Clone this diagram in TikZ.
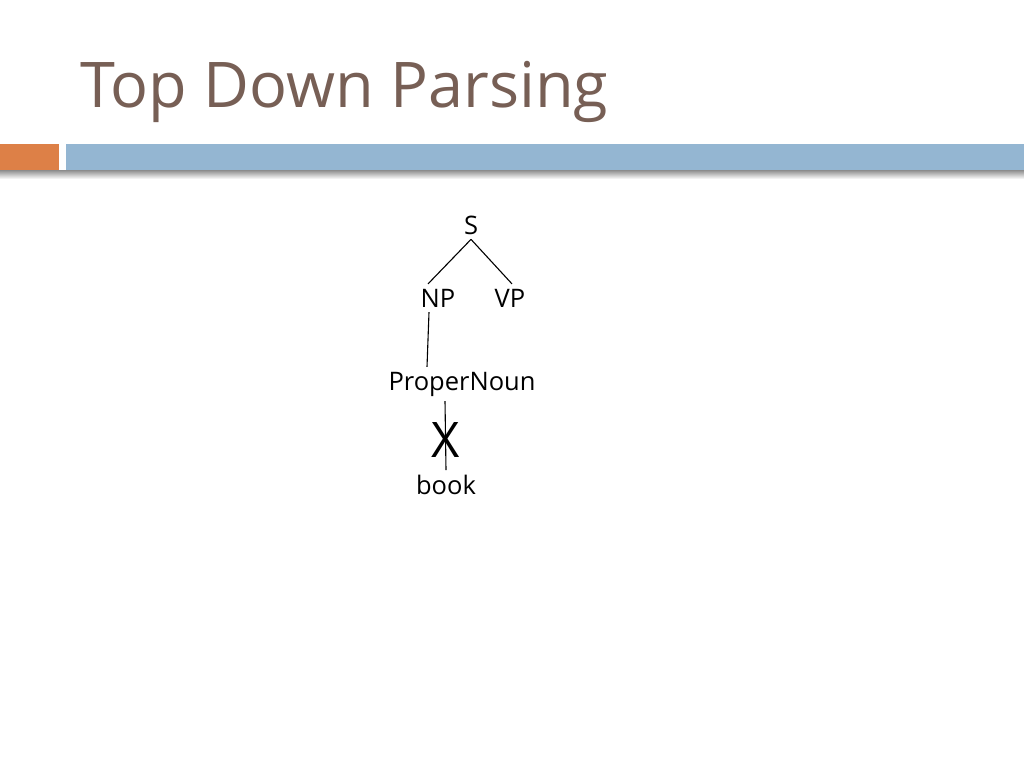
\documentclass[tikz,border=0pt]{standalone}
\usepackage{fontspec}
\setmainfont{Open Sans}
\usepackage{tikz}
\usetikzlibrary{positioning,calc}
\usepackage{xcolor}
\definecolor{titlebrown}{HTML}{775F55}
\definecolor{barorange}{HTML}{DD8047}
\definecolor{barblue}{HTML}{94B6D2}

\begin{document}
\begin{tikzpicture}[
    x=1pt,y=-1pt,
    cat/.style={font=\fontsize{25.5}{29}\selectfont,inner sep=1pt,outer sep=4pt},
    branch/.style={black,line width=1.1pt},
    cross/.style={font=\fontsize{49}{51}\selectfont,inner sep=0pt}
]
\useasboundingbox[fill=white] (0,0) rectangle (1024,768);

% Title
\node[anchor=base west,inner sep=0pt,text=titlebrown,font=\fontsize{63}{70}\selectfont] (title) at (80,107) {Top Down Parsing};

% Bar with shadow
\shade[top color=black!45,bottom color=white] (0,170) rectangle (1024,179);
\fill[barorange] (0,144) rectangle (59,170);
\fill[barblue] (66,144) rectangle (1024,170);

% Parse tree nodes
\node[cat] (S) at (471,225) {S};
\node[cat] (NP) at (438,298) {NP};
\node[cat] (VP) at (510,298) {VP};
\node[cat] (PN) at (462,384) {ProperNoun};
\node[cat] (book) at (446,485) {book};

% Branches
\draw[branch] (S.south) -- ([xshift=-10]NP.north);
\draw[branch] (S.south) -- ([xshift=2]VP.north);
\draw[branch] ([xshift=-9]NP.south) -- ([xshift=-35]PN.north);
\draw[branch] ([xshift=-17]PN.south) -- (book.north);

% Failed match
\node[cross] (fail) at (446,440) {X};
\end{tikzpicture}
\end{document}
